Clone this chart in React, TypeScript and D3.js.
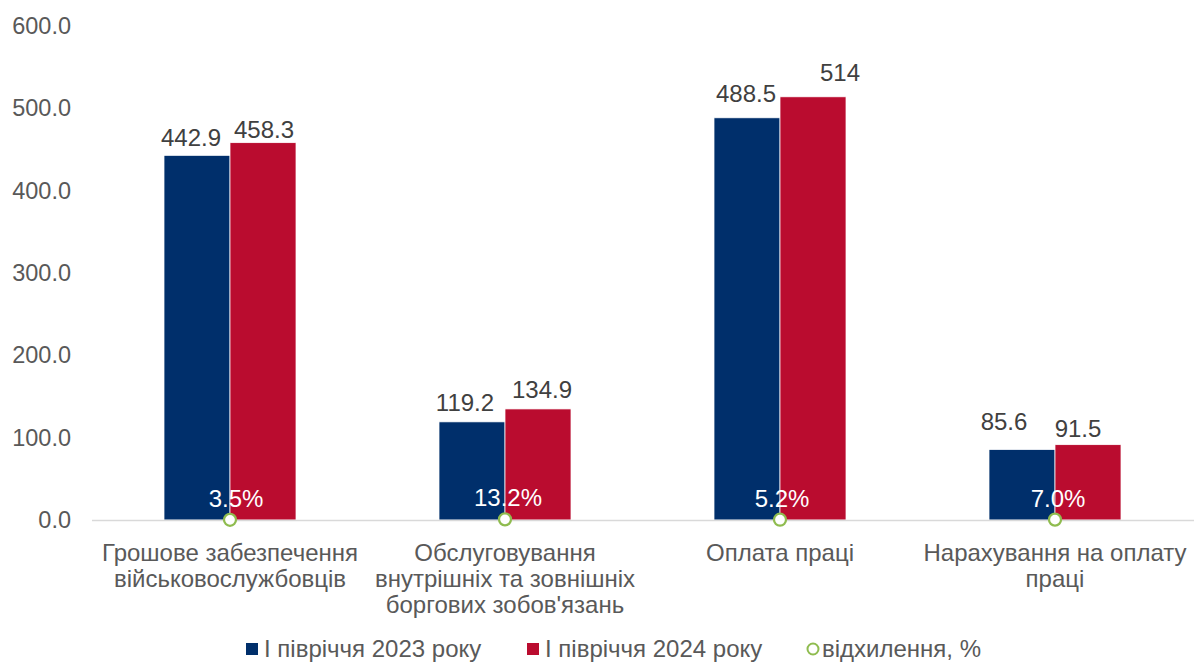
import React from "react";
import * as d3 from "d3";

const categories = [
  ["Грошове забезпечення", "військовослужбовців"],
  ["Обслуговування", "внутрішніх та зовнішніх", "боргових зобов'язань"],
  ["Оплата праці"],
  ["Нарахування на оплату", "праці"],
];
const series2023 = [442.9, 119.2, 488.5, 85.6];
const series2024 = [458.3, 134.9, 514, 91.5];
const labels2023 = ["442.9", "119.2", "488.5", "85.6"];
const labels2024 = ["458.3", "134.9", "514", "91.5"];
const deviation = [3.5, 13.2, 5.2, 7.0];
const yTicks = [0, 100, 200, 300, 400, 500, 600];
const legendNames = ["І півріччя 2023 року", "І півріччя 2024 року", "відхилення, %"];

// manual label nudges (layout only): [dx, gap above bar top]
const nudge2023 = [[-6, 9], [-7, 11], [-1, 16], [-18, 20]];
const nudge2024 = [[1, 5], [4, 11], [27, 16], [-10, 8]];
const nudgeDev = [6, 3, 2, 3];

const W = 1194;
const H = 664;
const FONT = "'Liberation Sans', Arial, sans-serif";
const BLUE = "#002f6b";
const RED = "#ba0c2f";
const GREEN = "#8fbc4f";
const FS = 24;

export default function App() {
  const x = d3.scaleBand<number>().domain(d3.range(categories.length)).range([92.5, 1192.5]);
  const y = d3.scaleLinear().domain([0, 600]).range([520, 26]);
  const barW = 66;
  const devY = d3.scaleLinear().domain([0, 100]).range([520, 26]);

  return (
    <svg width={W} height={H} style={{ position: "absolute", left: 0, top: 0, background: "#fff" }} fontFamily={FONT}>
      {yTicks.map((t) => (
        <text key={t} x={71} y={y(t) + 8} textAnchor="end" fontSize={23.5} fill="#595959">
          {d3.format(".1f")(t)}
        </text>
      ))}
      {categories.map((c, i) => {
        const cx = x(i)! + x.bandwidth() / 2;
        return (
          <g key={i}>
            <rect x={cx - barW} y={y(series2023[i])} width={barW} height={y(0) - y(series2023[i])} fill={BLUE} stroke="#fff" strokeWidth={0.75} />
            <rect x={cx} y={y(series2024[i])} width={barW} height={y(0) - y(series2024[i])} fill={RED} stroke="#fff" strokeWidth={0.75} />
            <text x={cx - barW / 2 + nudge2023[i][0]} y={y(series2023[i]) - nudge2023[i][1]} textAnchor="middle" fontSize={FS} fill="#404040">{labels2023[i]}</text>
            <text x={cx + barW / 2 + nudge2024[i][0]} y={y(series2024[i]) - nudge2024[i][1]} textAnchor="middle" fontSize={FS} fill="#404040">{labels2024[i]}</text>
            {c.map((line, j) => (
              <text key={j} x={cx} y={561 + j * 26} textAnchor="middle" fontSize={FS} fill="#595959">{line}</text>
            ))}
          </g>
        );
      })}
      <line x1={92} x2={1194} y1={520.5} y2={520.5} stroke="#d9d9d9" strokeWidth={1.5} />
      {deviation.map((d, i) => {
        const cx = x(i)! + x.bandwidth() / 2;
        return (
          <g key={i}>
            <circle cx={cx} cy={devY(d / 100)} r={6} fill="#fff" stroke={GREEN} strokeWidth={2.25} />
            <text x={cx + nudgeDev[i]} y={devY(d / 100) - 13} textAnchor="middle" fontSize={FS} fill="#fff">{d3.format(".1f")(d)}%</text>
          </g>
        );
      })}
      <g fontSize={FS} fill="#595959">
        <rect x={246} y={643} width={12} height={12} fill={BLUE} />
        <text x={264} y={657}>{legendNames[0]}</text>
        <rect x={527} y={643} width={12} height={12} fill={RED} />
        <text x={545} y={657}>{legendNames[1]}</text>
        <circle cx={813} cy={649} r={5.5} fill="#fff" stroke={GREEN} strokeWidth={2} />
        <text x={822} y={657}>{legendNames[2]}</text>
      </g>
    </svg>
  );
}
